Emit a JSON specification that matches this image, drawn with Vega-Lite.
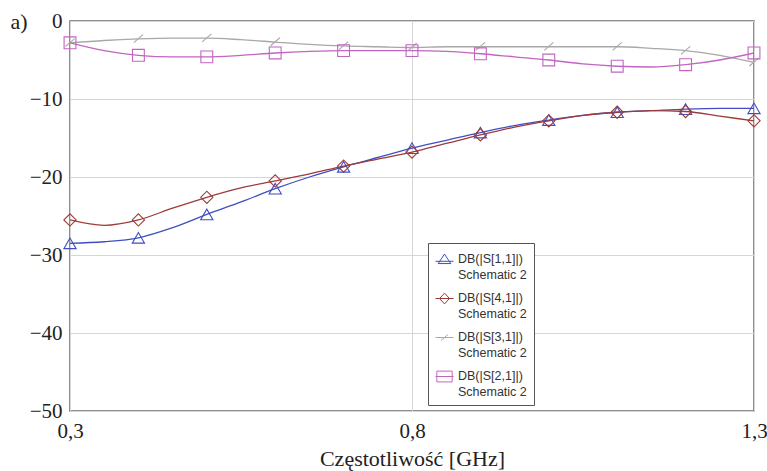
{
  "$schema": "https://vega.github.io/schema/vega-lite/v6.json",
  "width": 684,
  "height": 390,
  "autosize": {"type": "none"},
  "padding": {"left": 70, "top": 21, "right": 13, "bottom": 60},
  "background": "white",
  "config": {
    "view": {"stroke": "#6a6a6a", "strokeWidth": 1.5},
    "axis": {"domain": false, "ticks": false, "gridColor": "#d6d6d6", "gridWidth": 1, "labelFont": "Liberation Serif", "labelFontSize": 21, "labelColor": "#222", "titleFont": "Liberation Serif", "titleFontSize": 22, "titleColor": "#222", "titleFontWeight": "normal"}
  },
  "data": {
    "values": [
      {"f": 0.30, "v": -28.5, "s": "DB(|S[1,1]|)"},
      {"f": 0.35, "v": -28.3, "s": "DB(|S[1,1]|)"},
      {"f": 0.40, "v": -27.8, "s": "DB(|S[1,1]|)"},
      {"f": 0.45, "v": -26.5, "s": "DB(|S[1,1]|)"},
      {"f": 0.50, "v": -24.8, "s": "DB(|S[1,1]|)"},
      {"f": 0.55, "v": -23.2, "s": "DB(|S[1,1]|)"},
      {"f": 0.60, "v": -21.5, "s": "DB(|S[1,1]|)"},
      {"f": 0.65, "v": -20.0, "s": "DB(|S[1,1]|)"},
      {"f": 0.70, "v": -18.7, "s": "DB(|S[1,1]|)"},
      {"f": 0.75, "v": -17.5, "s": "DB(|S[1,1]|)"},
      {"f": 0.80, "v": -16.3, "s": "DB(|S[1,1]|)"},
      {"f": 0.85, "v": -15.3, "s": "DB(|S[1,1]|)"},
      {"f": 0.90, "v": -14.3, "s": "DB(|S[1,1]|)"},
      {"f": 0.95, "v": -13.4, "s": "DB(|S[1,1]|)"},
      {"f": 1.00, "v": -12.7, "s": "DB(|S[1,1]|)"},
      {"f": 1.05, "v": -12.1, "s": "DB(|S[1,1]|)"},
      {"f": 1.10, "v": -11.7, "s": "DB(|S[1,1]|)"},
      {"f": 1.15, "v": -11.5, "s": "DB(|S[1,1]|)"},
      {"f": 1.20, "v": -11.3, "s": "DB(|S[1,1]|)"},
      {"f": 1.25, "v": -11.2, "s": "DB(|S[1,1]|)"},
      {"f": 1.30, "v": -11.2, "s": "DB(|S[1,1]|)"},

      {"f": 0.30, "v": -25.5, "s": "DB(|S[4,1]|)"},
      {"f": 0.35, "v": -26.2, "s": "DB(|S[4,1]|)"},
      {"f": 0.40, "v": -25.5, "s": "DB(|S[4,1]|)"},
      {"f": 0.45, "v": -24.0, "s": "DB(|S[4,1]|)"},
      {"f": 0.50, "v": -22.6, "s": "DB(|S[4,1]|)"},
      {"f": 0.55, "v": -21.4, "s": "DB(|S[4,1]|)"},
      {"f": 0.60, "v": -20.5, "s": "DB(|S[4,1]|)"},
      {"f": 0.65, "v": -19.6, "s": "DB(|S[4,1]|)"},
      {"f": 0.70, "v": -18.6, "s": "DB(|S[4,1]|)"},
      {"f": 0.75, "v": -17.7, "s": "DB(|S[4,1]|)"},
      {"f": 0.80, "v": -16.8, "s": "DB(|S[4,1]|)"},
      {"f": 0.85, "v": -15.7, "s": "DB(|S[4,1]|)"},
      {"f": 0.90, "v": -14.6, "s": "DB(|S[4,1]|)"},
      {"f": 0.95, "v": -13.6, "s": "DB(|S[4,1]|)"},
      {"f": 1.00, "v": -12.8, "s": "DB(|S[4,1]|)"},
      {"f": 1.05, "v": -12.1, "s": "DB(|S[4,1]|)"},
      {"f": 1.10, "v": -11.7, "s": "DB(|S[4,1]|)"},
      {"f": 1.15, "v": -11.5, "s": "DB(|S[4,1]|)"},
      {"f": 1.20, "v": -11.6, "s": "DB(|S[4,1]|)"},
      {"f": 1.25, "v": -12.2, "s": "DB(|S[4,1]|)"},
      {"f": 1.30, "v": -12.8, "s": "DB(|S[4,1]|)"},

      {"f": 0.30, "v": -2.8, "s": "DB(|S[3,1]|)"},
      {"f": 0.35, "v": -2.5, "s": "DB(|S[3,1]|)"},
      {"f": 0.40, "v": -2.3, "s": "DB(|S[3,1]|)"},
      {"f": 0.45, "v": -2.2, "s": "DB(|S[3,1]|)"},
      {"f": 0.50, "v": -2.2, "s": "DB(|S[3,1]|)"},
      {"f": 0.55, "v": -2.4, "s": "DB(|S[3,1]|)"},
      {"f": 0.60, "v": -2.7, "s": "DB(|S[3,1]|)"},
      {"f": 0.65, "v": -3.0, "s": "DB(|S[3,1]|)"},
      {"f": 0.70, "v": -3.2, "s": "DB(|S[3,1]|)"},
      {"f": 0.75, "v": -3.3, "s": "DB(|S[3,1]|)"},
      {"f": 0.80, "v": -3.4, "s": "DB(|S[3,1]|)"},
      {"f": 0.85, "v": -3.3, "s": "DB(|S[3,1]|)"},
      {"f": 0.90, "v": -3.3, "s": "DB(|S[3,1]|)"},
      {"f": 0.95, "v": -3.3, "s": "DB(|S[3,1]|)"},
      {"f": 1.00, "v": -3.3, "s": "DB(|S[3,1]|)"},
      {"f": 1.05, "v": -3.3, "s": "DB(|S[3,1]|)"},
      {"f": 1.10, "v": -3.3, "s": "DB(|S[3,1]|)"},
      {"f": 1.15, "v": -3.5, "s": "DB(|S[3,1]|)"},
      {"f": 1.20, "v": -3.8, "s": "DB(|S[3,1]|)"},
      {"f": 1.25, "v": -4.4, "s": "DB(|S[3,1]|)"},
      {"f": 1.30, "v": -5.3, "s": "DB(|S[3,1]|)"},

      {"f": 0.30, "v": -2.8, "s": "DB(|S[2,1]|)"},
      {"f": 0.35, "v": -3.8, "s": "DB(|S[2,1]|)"},
      {"f": 0.40, "v": -4.4, "s": "DB(|S[2,1]|)"},
      {"f": 0.45, "v": -4.6, "s": "DB(|S[2,1]|)"},
      {"f": 0.50, "v": -4.6, "s": "DB(|S[2,1]|)"},
      {"f": 0.55, "v": -4.4, "s": "DB(|S[2,1]|)"},
      {"f": 0.60, "v": -4.1, "s": "DB(|S[2,1]|)"},
      {"f": 0.65, "v": -3.9, "s": "DB(|S[2,1]|)"},
      {"f": 0.70, "v": -3.8, "s": "DB(|S[2,1]|)"},
      {"f": 0.75, "v": -3.8, "s": "DB(|S[2,1]|)"},
      {"f": 0.80, "v": -3.8, "s": "DB(|S[2,1]|)"},
      {"f": 0.85, "v": -3.9, "s": "DB(|S[2,1]|)"},
      {"f": 0.90, "v": -4.2, "s": "DB(|S[2,1]|)"},
      {"f": 0.95, "v": -4.6, "s": "DB(|S[2,1]|)"},
      {"f": 1.00, "v": -5.0, "s": "DB(|S[2,1]|)"},
      {"f": 1.05, "v": -5.5, "s": "DB(|S[2,1]|)"},
      {"f": 1.10, "v": -5.8, "s": "DB(|S[2,1]|)"},
      {"f": 1.15, "v": -5.9, "s": "DB(|S[2,1]|)"},
      {"f": 1.20, "v": -5.6, "s": "DB(|S[2,1]|)"},
      {"f": 1.25, "v": -5.0, "s": "DB(|S[2,1]|)"},
      {"f": 1.30, "v": -4.1, "s": "DB(|S[2,1]|)"}
    ]
  },
  "encoding": {
    "x": {
      "field": "f", "type": "quantitative",
      "scale": {"domain": [0.3, 1.3], "nice": false, "zero": false},
      "axis": {"values": [0.3, 0.8, 1.3], "labelExpr": "replace(format(datum.value, '.1f'), '.', ',')", "labelPadding": 9, "title": "Częstotliwość [GHz]", "titlePadding": 7, "labelFlush": false}
    },
    "y": {
      "field": "v", "type": "quantitative",
      "scale": {"domain": [-50, 0], "nice": false},
      "axis": {"values": [-50, -40, -30, -20, -10, 0], "labelExpr": "replace(format(datum.value, 'd'), '-', '−')", "labelPadding": 8, "title": "a)", "titleAngle": 0, "titleX": -60, "titleY": 0, "titleAlign": "left", "titleBaseline": "middle", "labelFlush": false}
    },
    "color": {
      "field": "s", "type": "nominal",
      "scale": {"domain": ["DB(|S[1,1]|)", "DB(|S[4,1]|)", "DB(|S[3,1]|)", "DB(|S[2,1]|)"], "range": ["#3f4fc2", "#9e3a3a", "#a8a8a8", "#c264c2"]},
      "legend": {
        "orient": "none", "legendX": 358, "legendY": 222, "title": null,
        "fillColor": "white", "strokeColor": "#555", "padding": 7,
        "labelFont": "Liberation Sans", "labelFontSize": 12.5, "labelColor": "#333",
        "labelLimit": 0, "labelOffset": 4, "labelBaseline": "alphabetic",
        "symbolSize": 324, "rowPadding": 8,
        "labelExpr": "[datum.label, 'Schematic 2']",
        "encode": {
          "labels": {"update": {"dy": {"value": 3}, "lineHeight": {"value": 16}}},
          "symbols": {"update": {
            "fill": {"value": "transparent"},
            "strokeWidth": {"value": 1},
            "shape": {"signal": "datum.value === 'DB(|S[1,1]|)' ? 'M-1,0.2L1,0.2M-0.7,0.45L0,-0.6L0.7,0.45Z' : datum.value === 'DB(|S[4,1]|)' ? 'M-1,0L1,0M-0.55,0L0,-0.6L0.55,0L0,0.6Z' : datum.value === 'DB(|S[3,1]|)' ? 'M-1,0L1,0M-0.4,0.35L0.4,-0.35' : 'M-1,0L1,0M-0.85,-0.6H0.85V0.6H-0.85Z'"}
          }}
        }
      }
    }
  },
  "layer": [
    {
      "mark": {"type": "line", "interpolate": "monotone", "strokeWidth": 1.3, "clip": true}
    },
    {
      "transform": [{"filter": "datum.s === 'DB(|S[1,1]|)' && abs(datum.f * 10 - round(datum.f * 10)) < 0.001"}],
      "mark": {"type": "point", "shape": "triangle-up", "filled": false, "strokeWidth": 1.1, "size": 150, "opacity": 1}
    },
    {
      "transform": [{"filter": "datum.s === 'DB(|S[4,1]|)' && abs(datum.f * 10 - round(datum.f * 10)) < 0.001"}],
      "mark": {"type": "point", "shape": "diamond", "filled": false, "strokeWidth": 1.1, "size": 150, "opacity": 1}
    },
    {
      "transform": [{"filter": "datum.s === 'DB(|S[3,1]|)' && abs(datum.f * 10 - round(datum.f * 10)) < 0.001"}],
      "mark": {"type": "point", "shape": "M-0.75,0.6L0.75,-0.7", "filled": false, "strokeWidth": 1.1, "size": 150, "opacity": 1}
    },
    {
      "transform": [{"filter": "datum.s === 'DB(|S[2,1]|)' && abs(datum.f * 10 - round(datum.f * 10)) < 0.001"}],
      "mark": {"type": "point", "shape": "square", "filled": false, "strokeWidth": 1.1, "size": 140, "opacity": 1}
    }
  ]
}
